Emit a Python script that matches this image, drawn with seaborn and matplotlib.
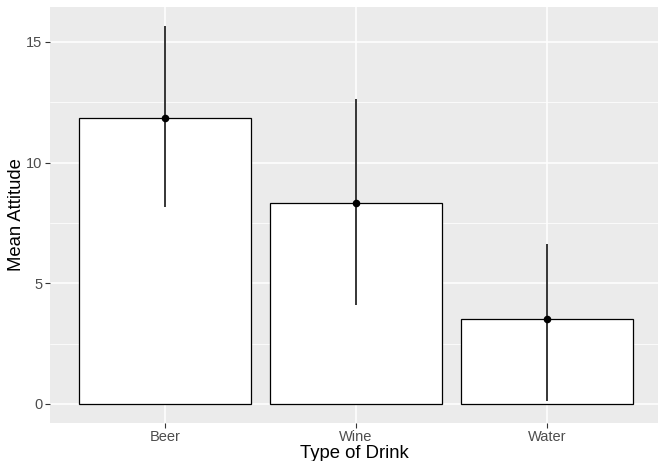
import matplotlib
matplotlib.use("Agg")
import matplotlib.pyplot as plt
import seaborn as sns
import pandas as pd
from matplotlib.ticker import MultipleLocator

drinks = ["Beer", "Wine", "Water"]
means = [11.85, 8.33, 3.51]
ci_low = [8.17, 4.10, 0.14]
ci_high = [15.67, 12.63, 6.61]

df = pd.DataFrame({"drink": drinks, "mean": means, "lo": ci_low, "hi": ci_high})

sns.set_theme(style="darkgrid")
plt.rcParams["font.family"] = ["Liberation Sans", "DejaVu Sans"]

fig = plt.figure(figsize=(6.58, 4.61), dpi=100)
ax = fig.add_axes([50 / 658, (461 - 422.7) / 461, 1 - 50 / 658, (422.7 - 7) / 461])
ax.set_facecolor("#EBEBEB")

sns.barplot(data=df, x="drink", y="mean", order=drinks, color="white",
            edgecolor="black", linewidth=0.9, width=0.9, errorbar=None,
            saturation=1, ax=ax, zorder=3)
for p in ax.patches:
    p.set_facecolor("white")
    p.set_zorder(3)

ax.vlines(range(len(drinks)), df["lo"], df["hi"], color="black", linewidth=1.1, zorder=4)
sns.scatterplot(data=df, x="drink", y="mean", color="black", s=30, zorder=5,
                ax=ax, edgecolor="black", linewidth=0, legend=False)

ax.set_xlim(-0.6, 2.58)
ax.set_ylim(-0.78, 16.45)
ax.yaxis.set_major_locator(MultipleLocator(5))
ax.yaxis.set_minor_locator(MultipleLocator(2.5))
ax.grid(which="major", color="white", linewidth=1.1, zorder=0)
ax.grid(which="minor", axis="y", color="white", linewidth=0.55, zorder=0)
ax.set_axisbelow(True)
for s in ax.spines.values():
    s.set_visible(False)

ax.tick_params(axis="both", which="major", length=3.5, width=0.8, color="#333333",
               labelcolor="#4D4D4D", labelsize=10.5, pad=2, bottom=True, left=True)
ax.tick_params(axis="both", which="minor", length=0)
ax.set_xlabel("Type of Drink", fontsize=13.3, color="black", labelpad=0.5)
ax.set_ylabel("Mean Attitude", fontsize=13.3, color="black", labelpad=1)

fig.savefig("out.png", dpi=100)
